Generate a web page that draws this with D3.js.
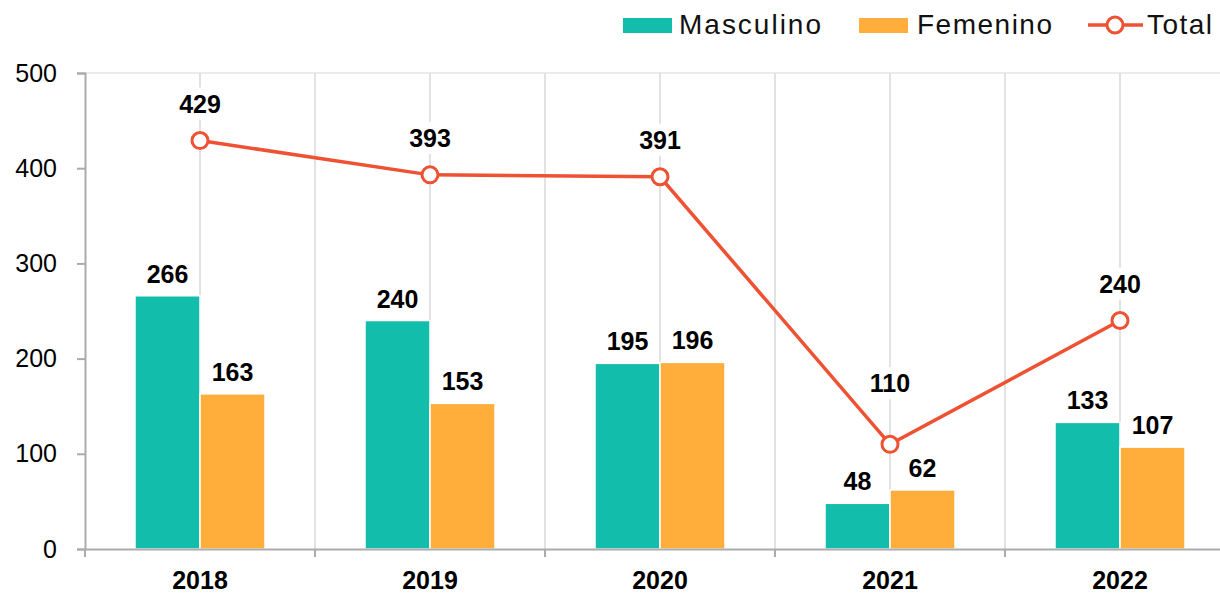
<!DOCTYPE html>
<html>
<head>
<meta charset="utf-8">
<script src="https://cdn.jsdelivr.net/npm/d3@7"></script>
<style>
  body { margin: 0; background: #fff; }
  svg { display: block; font-family: "Liberation Sans", Arial, sans-serif; }
</style>
</head>
<body>
<svg id="chart" width="1220" height="595"></svg>
<script>
// data
var years = ["2018", "2019", "2020", "2021", "2022"];
var masculino = [266, 240, 195, 48, 133];
var femenino = [163, 153, 196, 62, 107];
var total = [429, 393, 391, 110, 240];
var yTicks = [0, 100, 200, 300, 400, 500];

var teal = "#12BDAC", orange = "#FFAD3B", red = "#EF5133";

var svg = d3.select("#chart"),
    margin = {top: 73, right: -15, bottom: 46, left: 85},
    width = +svg.attr("width") - margin.left - margin.right,
    height = +svg.attr("height") - margin.top - margin.bottom,
    g = svg.append("g").attr("transform", "translate(" + margin.left + "," + margin.top + ")");

var x0 = d3.scaleBand().domain(years).range([0, width]);
var x1 = d3.scaleBand().domain(["m", "f"]).range([x0.bandwidth() / 2 - 65, x0.bandwidth() / 2 + 65]);
var y = d3.scaleLinear().domain([0, 500]).range([height, 0]);

var cx = function(i) { return x0(years[i]) + x0.bandwidth() / 2; };

// top gridline
g.append("line")
    .attr("x1", 0).attr("x2", width)
    .attr("y1", y(500)).attr("y2", y(500))
    .attr("stroke", "#e4e4e4").attr("stroke-width", 1.5);

// vertical gridlines at band edges and band centres
var gx = [];
years.forEach(function(d, i) {
  if (i > 0) gx.push(x0(d));
  gx.push(cx(i));
});
g.append("g").selectAll("line")
  .data(gx)
  .enter().append("line")
    .attr("x1", function(d) { return d; }).attr("x2", function(d) { return d; })
    .attr("y1", y(500)).attr("y2", y(0))
    .attr("stroke", "#d9d9d9").attr("stroke-width", 1.5);

// bars
var rows = years.map(function(d, i) { return {year: d, i: i, m: masculino[i], f: femenino[i]}; });
var grp = g.append("g").selectAll("g")
  .data(rows)
  .enter().append("g")
    .attr("transform", function(d) { return "translate(" + x0(d.year) + ",0)"; });

grp.selectAll("rect")
  .data(function(d) { return [{k: "m", v: d.m}, {k: "f", v: d.f}]; })
  .enter().append("rect")
    .attr("x", function(d) { return x1(d.k); })
    .attr("width", x1.bandwidth())
    .attr("y", function(d) { return y(d.v); })
    .attr("height", function(d) { return y(0) - y(d.v); })
    .attr("fill", function(d) { return d.k === "m" ? teal : orange; })
    .attr("stroke", "#fff").attr("stroke-width", 1.5);

// axes
var yAxis = g.append("g")
    .call(d3.axisLeft(y).tickValues(yTicks).tickSize(8).tickPadding(20));
yAxis.select(".domain").attr("stroke", "#ababab").attr("stroke-width", 2);
yAxis.selectAll(".tick line").attr("stroke", "#ababab").attr("stroke-width", 2);
yAxis.selectAll("text").attr("font-size", 25).attr("fill", "#000");

var xAxis = g.append("g")
    .attr("transform", "translate(0," + height + ")")
    .call(d3.axisBottom(x0).tickSize(0).tickPadding(22));
xAxis.select(".domain").attr("stroke", "#ababab").attr("stroke-width", 2);
xAxis.selectAll("text").attr("font-size", 25).attr("font-weight", "bold").attr("fill", "#000");
xAxis.selectAll(".edge")
  .data(years.map(function(d) { return x0(d); }))
  .enter().append("line")
    .attr("x1", function(d) { return d; }).attr("x2", function(d) { return d; })
    .attr("y1", 0).attr("y2", 8)
    .attr("stroke", "#ababab").attr("stroke-width", 2);

// total line
var line = d3.line()
    .x(function(d, i) { return cx(i); })
    .y(function(d) { return y(d); });

g.append("path")
    .datum(total)
    .attr("d", line)
    .attr("fill", "none")
    .attr("stroke", red)
    .attr("stroke-width", 3.5);

// labels with white backgrounds
function label(xp, yp, txt) {
  var lg = g.append("g");
  var t = lg.append("text")
      .attr("x", xp).attr("y", yp)
      .attr("text-anchor", "middle")
      .attr("font-size", 25).attr("font-weight", "bold")
      .attr("fill", "#000")
      .text(txt);
  var bb = t.node().getBBox();
  lg.insert("rect", "text")
      .attr("x", bb.x - 4).attr("y", bb.y - 2)
      .attr("width", bb.width + 8).attr("height", bb.height + 4)
      .attr("fill", "#fff");
}

total.forEach(function(v, i) {
  label(cx(i), y(v) - (i === 3 ? 52 : 28), v);
});

g.append("g").selectAll("circle")
  .data(total)
  .enter().append("circle")
    .attr("cx", function(d, i) { return cx(i); })
    .attr("cy", function(d) { return y(d); })
    .attr("r", 8)
    .attr("fill", "#fff")
    .attr("stroke", red)
    .attr("stroke-width", 3);

rows.forEach(function(d) {
  label(x0(d.year) + x1("m") + x1.bandwidth() / 2, y(d.m) - 13, d.m);
  label(x0(d.year) + x1("f") + x1.bandwidth() / 2, y(d.f) - 13, d.f);
});

// legend
var legend = svg.append("g").attr("font-size", 28).attr("fill", "#111");
legend.append("rect").attr("x", 623).attr("y", 18).attr("width", 49).attr("height", 15).attr("fill", teal);
legend.append("text").attr("x", 679).attr("y", 34).attr("textLength", 142).text("Masculino");
legend.append("rect").attr("x", 859).attr("y", 18).attr("width", 49).attr("height", 15).attr("fill", orange);
legend.append("text").attr("x", 917).attr("y", 34).attr("textLength", 135).text("Femenino");
legend.append("line").attr("x1", 1088).attr("x2", 1143).attr("y1", 25).attr("y2", 25)
    .attr("stroke", red).attr("stroke-width", 3.5);
legend.append("circle").attr("cx", 1115).attr("cy", 25).attr("r", 8)
    .attr("fill", "#fff").attr("stroke", red).attr("stroke-width", 3);
legend.append("text").attr("x", 1147).attr("y", 34).attr("textLength", 65).text("Total");
</script>
</body>
</html>
